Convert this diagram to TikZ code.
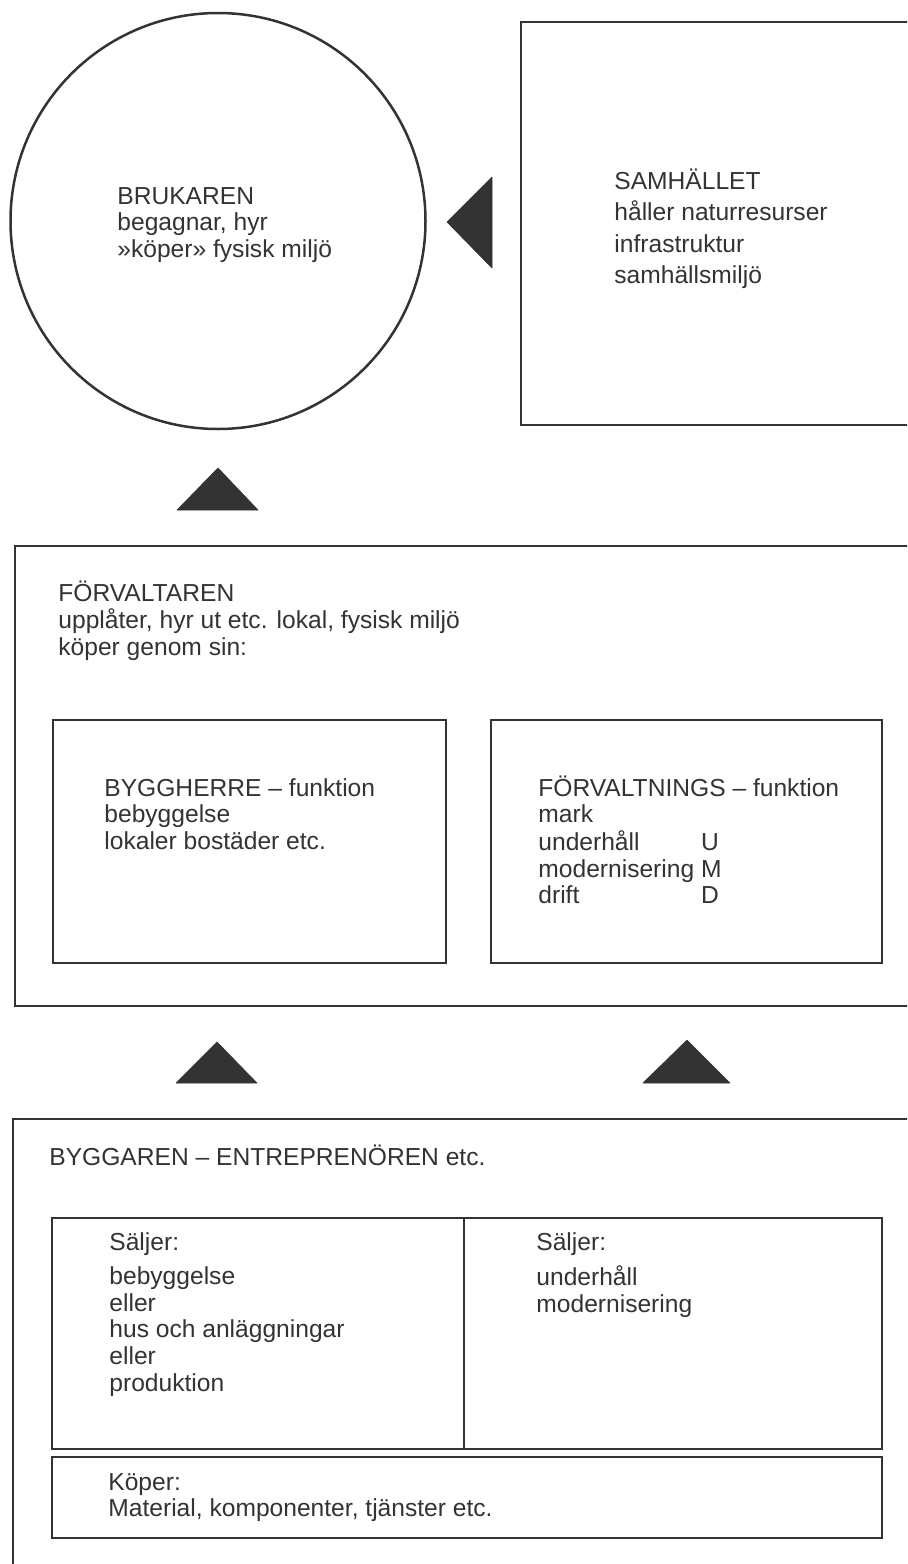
\documentclass[tikz,border=0pt]{standalone}
\usepackage{fontspec}
\setmainfont{Liberation Sans}
\definecolor{ink}{HTML}{333333}
\tikzset{
  frame/.style={draw=ink, line width=1.4pt},
  innerframe/.style={draw=ink, line width=1pt},
  marker/.style={fill=ink, draw=ink, line width=0.3pt, line join=round},
  txt/.style={anchor=base west, inner sep=0pt, text=ink,
    font=\fontsize{12.3}{13.3}\selectfont},
  widetxt/.style={txt, font=\fontsize{12.3}{15.8}\selectfont}
}
\newcommand{\block}[1]{\begin{tabular}[t]{@{}l@{}}#1\end{tabular}}
\begin{document}
\begin{tikzpicture}[x=0.5pt, y=-0.5pt]
  \useasboundingbox (0,0) rectangle (907,1564);
  \fill[white] (0,0) rectangle (907,1564);
  \clip (0,0) rectangle (907,1564);

  % --- top row: user and society ---
  \draw[ink, line width=1.25pt] (218,221) ellipse [x radius=207.5, y radius=208];
  \node[txt] (brukaren) at (117,204)
    {\block{BRUKAREN\\begagnar, hyr\\»köper» fysisk miljö}};

  \draw[frame] (940,22) -- (521,22) -- (521,425) -- (940,425);
  \node[widetxt] (samhallet) at (614,189)
    {\block{SAMHÄLLET\\håller naturresurser\\infrastruktur\\samhällsmiljö}};

  % society -> user
  \fill[marker] (447,222) -- (492,177) -- (492,268) -- cycle;
  % manager -> user
  \fill[marker] (218,468) -- (258,510) -- (177,510) -- cycle;

  % --- manager ---
  \draw[frame] (940,546) -- (15,546) -- (15,1006) -- (940,1006);
  \node[txt] (forvaltaren) at (58,601)
    {\block{FÖRVALTAREN\\upplåter, hyr ut etc. lokal, fysisk miljö\\köper genom sin:}};

  \draw[innerframe] (53,720) rectangle (446,963);
  \node[txt] (byggherre) at (104,796)
    {\block{BYGGHERRE – funktion\\bebyggelse\\lokaler bostäder etc.}};

  \draw[innerframe] (491,720) rectangle (882,963);
  \node[txt] (forvaltning) at (538,796)
    {\begin{tabular}[t]{@{}l@{\ }l@{}}
      \multicolumn{2}{@{}l@{}}{FÖRVALTNINGS – funktion}\\
      mark & \\
      underhåll & U\\
      modernisering & M\\
      drift & D
    \end{tabular}};

  % builder -> manager
  \fill[marker] (217,1042) -- (257,1083) -- (176,1083) -- cycle;
  \fill[marker] (687,1040) -- (730,1083) -- (643,1083) -- cycle;

  % --- builder / contractor ---
  \draw[frame] (940,1119) -- (13,1119) -- (13,1600);
  \node[txt] (byggaren) at (49,1165) {BYGGAREN – ENTREPRENÖREN etc.};

  \draw[innerframe] (52,1218) rectangle (882,1449);
  \draw[innerframe] (464,1218) -- (464,1449);
  \node[txt] (saljer-bygg) at (109,1250)
    {\block{Säljer:\\[4pt]bebyggelse\\eller\\hus och anläggningar\\eller\\produktion}};
  \node[txt] (saljer-forv) at (536,1250)
    {\block{Säljer:\\[4pt]underhåll\\modernisering}};

  \draw[innerframe] (52,1457) rectangle (882,1538);
  \node[txt] (koper) at (108,1490)
    {\block{Köper:\\Material, komponenter, tjänster etc.}};
\end{tikzpicture}
\end{document}
